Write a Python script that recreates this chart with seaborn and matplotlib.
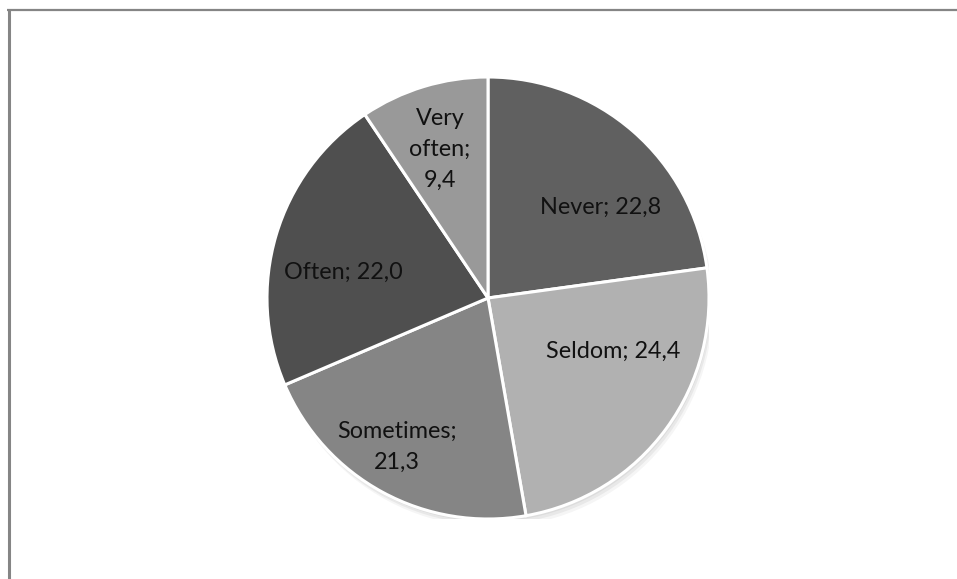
import matplotlib
matplotlib.use("Agg")
import matplotlib.pyplot as plt
import seaborn as sns
from matplotlib.lines import Line2D
from matplotlib.patches import Circle

sns.set_theme(style="white")
plt.rcParams['font.family'] = ['Lato', 'DejaVu Sans']

categories = ["Never", "Seldom", "Sometimes", "Often", "Very often"]
values = [22.8, 24.4, 21.3, 22.0, 9.4]
label_texts = ["Never; 22,8", "Seldom; 24,4", "Sometimes;\n21,3", "Often; 22,0", "Very\noften;\n9,4"]
colors = ["#606060", "#b1b1b1", "#858585", "#4f4f4f", "#999999"]

W, H = 957, 579
fig = plt.figure(figsize=(W / 100, H / 100), dpi=100)
fig.patch.set_facecolor("white")

cx, cy, R = 488, 298, 221
ax = fig.add_axes([(cx - R) / W, (H - cy - R) / H, 2 * R / W, 2 * R / H])

# soft shadow
for i, a in enumerate([0.05, 0.05, 0.04]):
    ax.add_patch(Circle((0.006 * (i + 1), -0.012 * (i + 1)), 1.0, color="black", alpha=a, zorder=0, lw=0))

wedges, _ = ax.pie(values, colors=colors, startangle=90, counterclock=False, radius=1.0,
                   wedgeprops=dict(edgecolor="white", linewidth=2.2, zorder=2))
ax.set_xlim(-1, 1)
ax.set_ylim(-1, 1)
ax.set_aspect("auto")
ax.set_axis_off()

# label positions (layout, in radius units)
label_pos = [(0.511, 0.412), (0.566, -0.240), (-0.412, -0.674), (-0.655, 0.118), (-0.217, 0.674)]
for t, (x, y) in zip(label_texts, label_pos):
    ax.text(x, y, t, ha="center", va="center", fontsize=16.8, color="#111111",
            linespacing=1.58, zorder=5)

# chart frame (top and left edges)
fig.add_artist(Line2D([8.5 / W, 8.5 / W], [0, 1 - 9.5 / H], transform=fig.transFigure,
                      color="#858585", lw=2.2, solid_capstyle="butt"))
fig.add_artist(Line2D([7 / W, 1], [1 - 10 / H, 1 - 10 / H], transform=fig.transFigure,
                      color="#858585", lw=1.6, solid_capstyle="butt"))

fig.savefig("out.png", dpi=100, facecolor="white")
